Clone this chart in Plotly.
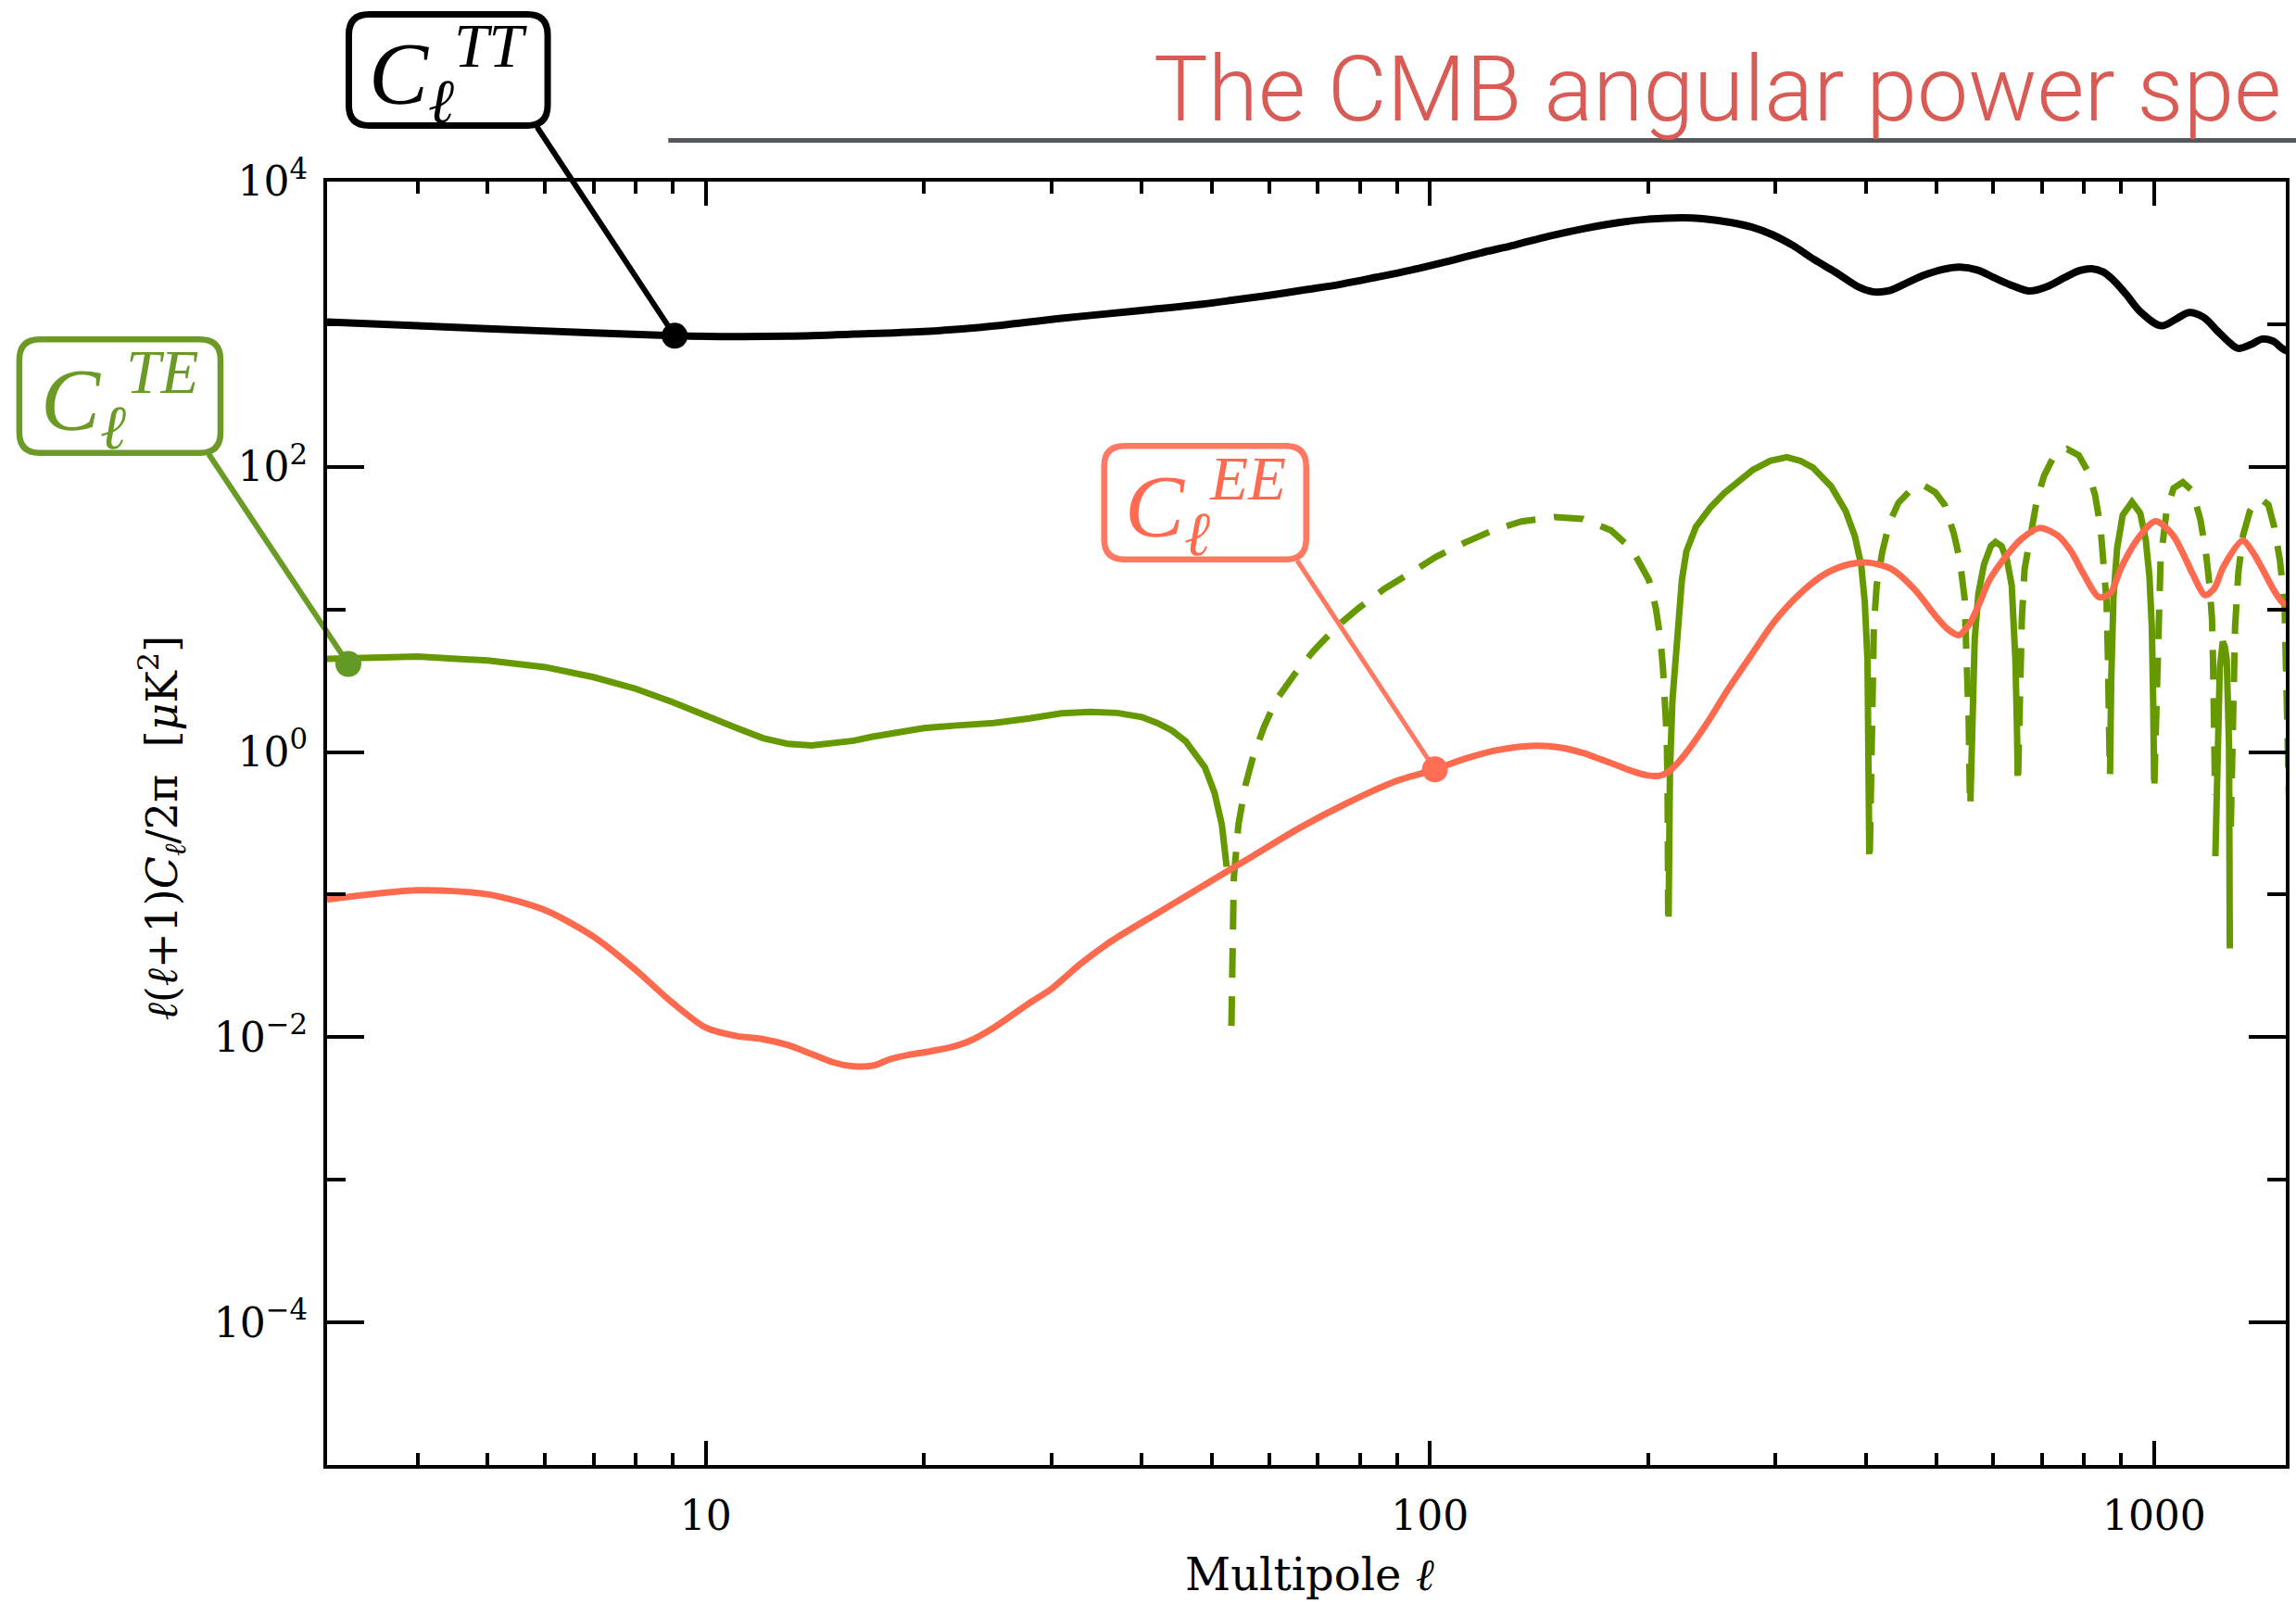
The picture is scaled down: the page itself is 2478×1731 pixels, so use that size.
import numpy as np
import plotly.graph_objects as go

# ---------------------------------------------------------------------------
# Spectra: l(l+1)C_l/2pi in muK^2 versus multipole l
# ---------------------------------------------------------------------------
tt_ell = [3, 4, 5, 7, 9, 11, 13, 16, 20, 24, 31, 40, 48.5, 54.2, 60.5, 67.5,
          75.5, 84.3, 94, 105.1, 117, 131.1, 146, 163.5, 183, 199.5, 223, 238.1,
          260, 277.8, 297, 317.2, 339, 362.2, 379, 391.3, 409.2, 432.2, 452,
          482.8, 510, 539.1, 570, 602.1, 640, 672.6, 710, 750.9, 790, 820.3,
          850, 876.6, 915, 957.6, 1023, 1070, 1118, 1170, 1221, 1265, 1305,
          1360, 1410, 1460, 1506, 1540]
tt_val = [1036, 975, 930, 870, 832, 819, 825, 852, 890, 951, 1100, 1250, 1382,
          1490, 1606, 1748, 1912, 2133, 2392, 2736, 3147, 3600, 4140, 4688, 5180,
          5445, 5583, 5500, 5180, 4808, 4244, 3565, 2848, 2333, 2009, 1818, 1688,
          1730, 1912, 2220, 2420, 2514, 2400, 2112, 1850, 1713, 1830, 2112, 2380,
          2453, 2330, 2060, 1620, 1221, 975, 1080, 1209, 1120, 905, 760, 678,
          720, 787, 760, 671, 640]

ee_ell = [3, 4, 5, 6, 7, 8, 9, 10, 11, 12, 13, 14, 15, 16, 17, 18, 19, 20, 22,
          23, 25, 28, 30, 33, 36.3, 42.1, 48.9, 56.9, 66.1, 76.8, 89.2, 101.6,
          111.7, 124.1, 139.9, 152, 162, 172, 182, 191, 200, 207, 213, 220, 227,
          242, 258, 279, 300, 328, 353, 380, 403, 434, 467, 500, 520, 537, 555,
          575, 590, 620, 655, 695, 737, 768, 800, 839, 870, 900, 946, 1004, 1060,
          1097, 1135, 1176, 1210, 1249, 1325, 1370, 1420, 1465, 1507, 1530, 1550]
ee_val = [0.0922, 0.1071, 0.1005, 0.0777, 0.0507, 0.0297, 0.0174, 0.01168,
          0.01022, 0.00969, 0.0088, 0.00762, 0.00666, 0.00625, 0.00632, 0.00703,
          0.0075, 0.00782, 0.00861, 0.00928, 0.01168, 0.0174, 0.0218, 0.033,
          0.0471, 0.0744, 0.1175, 0.186, 0.294, 0.438, 0.618, 0.755, 0.897, 1.034,
          1.108, 1.07, 0.99, 0.89, 0.80, 0.73, 0.685, 0.68, 0.72, 0.84, 1.02,
          1.63, 2.75, 4.95, 8.4, 13.6, 18.0, 20.8, 21.3, 19.2, 13.8, 8.9, 7.2,
          6.6, 7.8, 11.3, 15.5, 22.5, 31.0, 37.2, 32.8, 25.5, 17.5, 12.2, 13.0,
          19.5, 30.5, 41.5, 33.5, 24.5, 17.0, 12.6, 14.0, 20.3, 30.3, 25.0, 18.1,
          13.5, 11.1, 11.0, 12.1]

# TE is signed: positive stretches are drawn solid, negative ones dashed (|TE|)
te_ell = [3, 4, 5, 6, 7, 8, 9, 10, 11, 12, 13, 14, 15, 16, 17, 18, 19, 20, 22,
          25, 28, 31, 34, 37, 40, 42, 44, 46, 48.9, 50.4, 51.6, 52.4,
          53.2, 53.6, 54.4, 55.6, 56.9, 59.0, 61.3, 65.1, 69.1, 74.5, 79.7, 86.6,
          93.3, 102, 111.7, 122.3, 133.8, 148.6, 162.6, 177.8, 190.3, 200.6,
          205.1, 208.2, 209.8, 211.3, 212.3, 212.9, 213.3,
          213.6, 214.5, 216.2, 219.5, 222.8, 226, 233, 244, 255, 279, 295, 311,
          325, 338, 358, 375, 386, 394, 398.5, 402, 403.6, 404.3,
          405, 406.5, 407.9, 410.2, 413.9, 421.2, 430.6, 443.5, 463.6, 480.8,
          498.9, 513.8, 529.1, 539.3, 547.3, 551.4, 554.6, 557,
          557.6, 562, 565.3, 571.9, 582.1, 595.1, 603.9, 615.6, 626.6, 635.9,
          640.6, 643.4, 646.3, 648.2,
          649, 649.9, 652.8, 656.7, 662.4, 674.3, 689.4, 704.7, 725.8, 758.6,
          787, 810.5, 828.6, 843.4, 853.4, 859.7, 863.5, 866.1, 868.5,
          869.2, 869.9, 872.5, 878.7, 889, 904.9, 932, 956.8, 973.9, 985.4,
          992.7, 997, 1000,
          1000.8, 1006, 1011.8, 1020.7, 1040.4, 1063.6, 1095.4, 1128.1, 1158.4,
          1178.9, 1192.9, 1202, 1206, 1211, 1214,
          1215, 1224.9, 1232.3, 1244, 1252, 1259.7, 1265, 1269, 1272,
          1276, 1284, 1293.6, 1306.9, 1326.3, 1356, 1386, 1405, 1438, 1465.8,
          1491.9, 1513.6, 1519.5, 1525, 1535]
te_val = [4.50, 4.67, 4.38, 3.94, 3.35, 2.78, 2.24, 1.79, 1.48, 1.25, 1.14, 1.11,
          1.15, 1.20, 1.28, 1.35, 1.41, 1.47, 1.53, 1.60, 1.72, 1.87, 1.91, 1.88,
          1.76, 1.60, 1.42, 1.19, 0.78, 0.52, 0.31, 0.157,
          -0.012, -0.13, -0.31, -0.58, -0.90, -1.50, -2.30, -3.54, -5.13, -7.65,
          -10.2, -14.0, -17.6, -23.4, -29.4, -35.9, -41.4, -44.4, -43.1, -35.9,
          -26.2, -16.1, -10.2, -6.1, -3.86, -2.30, -1.30, -0.55, -0.072,
          0.07, 0.73, 2.30, 7.24, 16.1, 25.5, 38.0, 52.0, 65.5, 95.0, 110.0,
          117.0, 110.0, 98.7, 73.1, 49.0, 32.8, 20.6, 11.3, 4.43, 1.17, 0.192,
          -0.2, -0.9, -2.27, -7.55, -14.7, -25.1, -40.1, -55.9, -70.7, -74.1,
          -66.1, -54.1, -33.9, -22.0, -12.1, -5.06, -1.63, -0.41,
          0.45, 2.27, 6.18, 12.9, 20.6, 27.8, 29.7, 27.8, 22.0, 14.7, 8.63, 4.43,
          1.63, 0.68,
          -0.7, -1.17, -2.27, -8.63, -19.2, -32.8, -59.8, -86.4, -116.6, -133.2,
          -120.5, -92.3, -63.9, -37.5, -20.6, -11.3, -4.43, -1.63, -0.73,
          0.7, 1.17, 3.17, 12.1, 26.8, 45.8, 56.7, 47.3, 30.7, 16.8, 7.55, 2.27,
          0.64,
          -0.6, -1.63, -8.63, -22.0, -49.0, -70.7, -78.1, -68.3, -42.8, -25.1,
          -14.7, -8.63, -4.4, -1.8, -0.5,
          0.186, 1.17, 3.88, 5.95, 5.5, 4.43, 2.2, 1.1, 0.042,
          -0.3, -2.27, -7.55, -18.0, -32.8, -49.0, -57.8, -59.5, -54.1, -37.5,
          -22.0, -11.3, -3.25, -1.5, -0.5]

# Highlighted points and their labels
tt_dot = (9.06, 830)
te_dot = (3.21, 4.14)
ee_dot = (101.6, 0.755)

x_tick_vals = [10, 100, 1000]
x_tick_text = ["10", "100", "1000"]
x_minor_vals = [4, 5, 6, 7, 8, 9, 20, 30, 40, 50, 60, 70, 80, 90,
                200, 300, 400, 500, 600, 700, 800, 900]
y_tick_vals = [1e-4, 1e-2, 1, 1e2, 1e4]
y_tick_text = ["10<sup>\u22124</sup>", "10<sup>\u22122</sup>", "10<sup>0</sup>",
               "10<sup>2</sup>", "10<sup>4</sup>"]
y_minor_vals = [1e-3, 1e-1, 10, 1e3]

heading = "The CMB angular power spe"

TT_COLOR = "#000000"
TE_COLOR = "#669900"
TE_LABEL = "#6b9b26"
EE_COLOR = "#fe6a4e"
EE_LABEL = "#ff7862"
TITLE_COLOR = "#d95b55"

# ---------------------------------------------------------------------------
# Page geometry (pixels) and helpers to place decorations in paper units
# ---------------------------------------------------------------------------
W, H = 2478, 1731
L, R, T, B = 353, 2471, 196, 1581
XMIN, XMAX = np.log10(3.0), np.log10(1520.0)
YMIN, YMAX = -5.0, 4.0


def px(x):
    return (x - L) / (R - L)


def py(y):
    return (B - y) / (B - T)


def data_to_page(ell, val):
    x = L + (np.log10(ell) - XMIN) / (XMAX - XMIN) * (R - L)
    y = B - (np.log10(val) - YMIN) / (YMAX - YMIN) * (B - T)
    return x, y


def rounded_box(x0, y0, x1, y1, r):
    def P(x, y):
        return f"{px(x):.5f},{py(y):.5f}"
    return (f"M {P(x0 + r, y0)} L {P(x1 - r, y0)} Q {P(x1, y0)} {P(x1, y0 + r)} "
            f"L {P(x1, y1 - r)} Q {P(x1, y1)} {P(x1 - r, y1)} "
            f"L {P(x0 + r, y1)} Q {P(x0, y1)} {P(x0, y1 - r)} "
            f"L {P(x0, y0 + r)} Q {P(x0, y0)} {P(x0 + r, y0)} Z")


fig = go.Figure()

# TE: split the signed series into runs of constant sign
te_ell_a = np.array(te_ell, dtype=float)
te_val_a = np.array(te_val, dtype=float)
sign = np.sign(te_val_a)
start = 0
for i in range(1, len(te_val_a) + 1):
    if i == len(te_val_a) or sign[i] != sign[start]:
        seg_x = te_ell_a[start:i]
        seg_y = np.abs(te_val_a[start:i])
        fig.add_trace(go.Scatter(
            x=seg_x, y=seg_y, mode="lines", showlegend=False, hoverinfo="skip",
            line=dict(color=TE_COLOR, width=7,
                      dash="solid" if sign[start] > 0 else "32px,20px")))
        start = i

fig.add_trace(go.Scatter(x=ee_ell, y=ee_val, mode="lines", showlegend=False,
                         line=dict(color=EE_COLOR, width=7, shape="spline",
                                   smoothing=0.8)))
fig.add_trace(go.Scatter(x=tt_ell, y=tt_val, mode="lines", showlegend=False,
                         line=dict(color=TT_COLOR, width=8, shape="spline",
                                   smoothing=1.0)))

# Marker dots
for (ell, val), col in [(tt_dot, "#000000"), (te_dot, "#639a26"), (ee_dot, "#ff6e55")]:
    fig.add_trace(go.Scatter(x=[ell], y=[val], mode="markers", showlegend=False,
                             cliponaxis=False,
                             marker=dict(size=28, color=col, line=dict(width=0))))

shapes = []
annotations = []

# Label boxes: (outer box in page pixels, border width, colours, connector start, dot, text)
labels = [
    ((373, 12, 595, 139), 7, "#000000", "#000000", (580, 137), tt_dot, "TT"),
    ((17, 363, 241, 492), 6.5, TE_LABEL, TE_LABEL, (225, 490), te_dot, "TE"),
    ((1190, 478, 1415, 607), 6.5, EE_LABEL, "#ff6a50", (1402, 605), ee_dot, "EE"),
]
for (x0, y0, x1, y1), bw, bcol, tcol, start_pt, dot, tag in labels:
    h = bw / 2
    shapes.append(dict(type="path", xref="paper", yref="paper",
                       path=rounded_box(x0 + h, y0 + h, x1 - h, y1 - h, 22),
                       line=dict(color=bcol, width=bw), fillcolor="white",
                       layer="above"))
    dx, dy = data_to_page(*dot)
    shapes.append(dict(type="line", xref="paper", yref="paper",
                       x0=px(start_pt[0]), y0=py(start_pt[1]),
                       x1=px(dx), y1=py(dy),
                       line=dict(color=bcol, width=6 if tag != "EE" else 5),
                       layer="below"))
    annotations.append(dict(
        xref="paper", yref="paper", x=px((x0 + x1) / 2), y=py((y0 + y1) / 2 + 4),
        xanchor="center", yanchor="middle", showarrow=False,
        text=f"<i>C</i><sub><i>\u2113</i></sub><sup><i>{tag}</i></sup>",
        font=dict(family="Liberation Serif", size=96, color=tcol)))

# Heading and rule
annotations.append(dict(
    xref="paper", yref="paper", x=px(1245), y=py(96), xanchor="left",
    yanchor="middle", showarrow=False, text=heading,
    font=dict(family="Roboto", size=98.5, color=TITLE_COLOR, weight=300)))
shapes.append(dict(type="line", xref="paper", yref="paper",
                   x0=px(722), x1=px(2500), y0=py(151.5), y1=py(151.5),
                   line=dict(color="#55595e", width=5)))

# Axis titles
annotations.append(dict(
    xref="paper", yref="paper", x=px(1416), y=py(1699), xanchor="center",
    yanchor="middle", showarrow=False, text="Multipole <i>\u2113</i>",
    font=dict(family="DejaVu Serif", size=48, color="black")))
annotations.append(dict(
    xref="paper", yref="paper", x=px(174), y=py(893), xanchor="center",
    yanchor="middle", showarrow=False, textangle=-90,
    text=("<i>\u2113</i>(<i>\u2113</i>+1)<i>C</i><sub><i>\u2113</i></sub>/2\u03c0"
          "\u00a0\u00a0[<i>\u03bc</i>K<sup>2</sup>]"),
    font=dict(family="DejaVu Serif", size=46, color="black")))

axis_common = dict(type="log", showgrid=False, zeroline=False, showline=True,
                   linecolor="black", linewidth=4, mirror="ticks", ticks="inside",
                   tickcolor="black", tickmode="array",
                   tickfont=dict(family="DejaVu Serif", size=44, color="black"))

fig.update_layout(
    width=W, height=H,
    margin=dict(l=L, r=W - R, t=T, b=H - B, pad=0),
    paper_bgcolor="white", plot_bgcolor="white",
    showlegend=False,
    xaxis=dict(**axis_common, range=[XMIN, XMAX], tickvals=x_tick_vals,
               ticktext=x_tick_text, ticklen=26, tickwidth=3.5,
               ticklabelstandoff=13,
               minor=dict(tickmode="array", tickvals=x_minor_vals, ticks="inside",
                          ticklen=13, tickwidth=3.5, tickcolor="black",
                          showgrid=False)),
    yaxis=dict(**axis_common, range=[YMIN, YMAX], tickvals=y_tick_vals,
               ticktext=y_tick_text, ticklen=40, tickwidth=4,
               ticklabelstandoff=8,
               minor=dict(tickmode="array", tickvals=y_minor_vals, ticks="inside",
                          ticklen=20, tickwidth=4, tickcolor="black",
                          showgrid=False)),
    shapes=shapes,
    annotations=annotations,
)

fig.write_html("out.html")
